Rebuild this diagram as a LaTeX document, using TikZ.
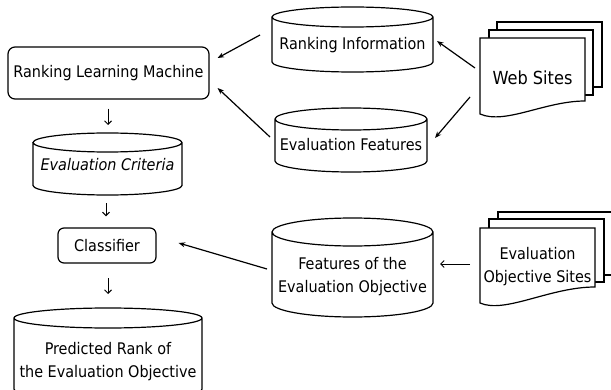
\documentclass[tikz,border=0pt]{standalone}
\usepackage{fontspec}
\setmainfont{DejaVu Sans Condensed}
\usetikzlibrary{arrows.meta,calc}
\newcommand\dbshape[3]{% #1 node, #2 ry, #3 half width
  \draw ([yshift=-#2pt]#1.north west) -- ([yshift=#2pt]#1.south west)
    arc[start angle=180,end angle=360,x radius=#3pt,y radius=#2pt]
    -- ([yshift=-#2pt]#1.north east)
    arc[start angle=0,end angle=360,x radius=#3pt,y radius=#2pt];}
\begin{document}
\begin{tikzpicture}[x=1pt,y=1pt,line width=1.2pt,
  box/.style={draw, rounded corners=7pt, font=\fontsize{16}{19}\selectfont, inner sep=0pt},
  dbarea/.style={inner sep=0pt, outer sep=0pt},
  lbl/.style={font=\fontsize{16}{23}\selectfont, align=center, inner sep=0pt},
  page/.style={draw, fill=white, line join=miter},
  darr/.style={-{Stealth[length=6.5pt,width=5pt]}},
  barr/.style={-{Straight Barb[length=3.5pt,width=7pt]}, line width=1pt},
]
\useasboundingbox (0,0) rectangle (611,389);
\clip (0,0) rectangle (611,389);

% Ranking Learning Machine and Classifier
\node[box, minimum width=201pt, minimum height=52pt] (rlm) at (108.5,316) {Ranking Learning Machine};
\node[box, rounded corners=6pt, minimum width=98pt, minimum height=35pt] (cls) at (107,143.5) {Classifier};

% cylinders
\node[dbarea, minimum width=161pt, minimum height=65pt] (ri) at (352.5,349.5) {};
\dbshape{ri}{10}{80.5}
\node[lbl] (ri-t) at (352.5,344) {Ranking Information};

\node[dbarea, minimum width=152pt, minimum height=64pt] (ef) at (351,249) {};
\dbshape{ef}{11}{76}
\node[lbl] (ef-t) at (351,244) {Evaluation Features};

\node[dbarea, minimum width=149pt, minimum height=62pt] (ec) at (107.5,225) {};
\dbshape{ec}{9.5}{74.5}
\node[lbl, font=\fontsize{16}{23}\selectfont\itshape] (ec-t) at (107.5,224) {Evaluation Criteria};

\node[dbarea, minimum width=161pt, minimum height=99pt] (feo) at (352.5,121.5) {};
\dbshape{feo}{14}{80.5}
\node[lbl] (feo-t) at (352.5,112.5) {Features of the\\Evaluation Objective};

\node[dbarea, minimum width=188pt, minimum height=91pt] (pr) at (108,35.5) {};
\dbshape{pr}{10}{94}
\node[lbl] (pr-t) at (108,27.5) {Predicted Rank of\\the Evaluation Objective};

% Web Sites document stack
\draw[page] (497,302) rectangle (602,367);
\draw[page] (489,294) rectangle (593,359);
\draw[page] (480,351) -- (585,351) -- (585,288) .. controls (545,288) and (505,264) .. (480,275) -- cycle;
\node[dbarea, minimum width=105pt, minimum height=80pt, font=\fontsize{18}{21}\selectfont] (ws) at (532.5,311) {Web Sites};

% Evaluation Objective Sites document stack
\draw[page] (498,114) rectangle (625,177);
\draw[page] (489,107) rectangle (604,170);
\draw[page] (480,161) -- (595,161) -- (595,102) .. controls (550,102) and (505,75) .. (480,86) -- cycle;
\node[dbarea, minimum width=115pt, minimum height=77pt, align=center, font=\fontsize{16}{23}\selectfont] (eos) at (537.5,122.5) {Evaluation\\Objective Sites};

% connectors
\draw[darr] ([shift={(-12,4.5)}]ri.west) -- ([shift={(8,15)}]rlm.east);
\draw[darr] ([shift={(-5,3)}]ef.west) -- ([shift={(8,-15)}]rlm.east);
\draw[darr] ([shift={(-5,10)}]ws.west) -- ([shift={(4,-1.5)}]ri.east);
\draw[darr] ([shift={(-10,-19)}]ws.west) -- ([shift={(8,2)}]ef.east);
\draw[barr] ([shift={(-0.5,-9)}]rlm.south) -- ([shift={(0.5,8)}]ec.north);
\draw[barr] ([shift={(-1.5,-8)}]ec.south) -- ([shift={(-1,11)}]cls.north);
\draw[barr] ([shift={(1,-14.5)}]cls.south) -- ([shift={(0,14)}]pr.north);
\draw[barr] ([shift={(-10,2.5)}]eos.west) -- ([shift={(7,3.5)}]feo.east);
\draw[darr] ([shift={(-5,-1.5)}]feo.west) -- ([shift={(22,2.5)}]cls.east);
\end{tikzpicture}
\end{document}
